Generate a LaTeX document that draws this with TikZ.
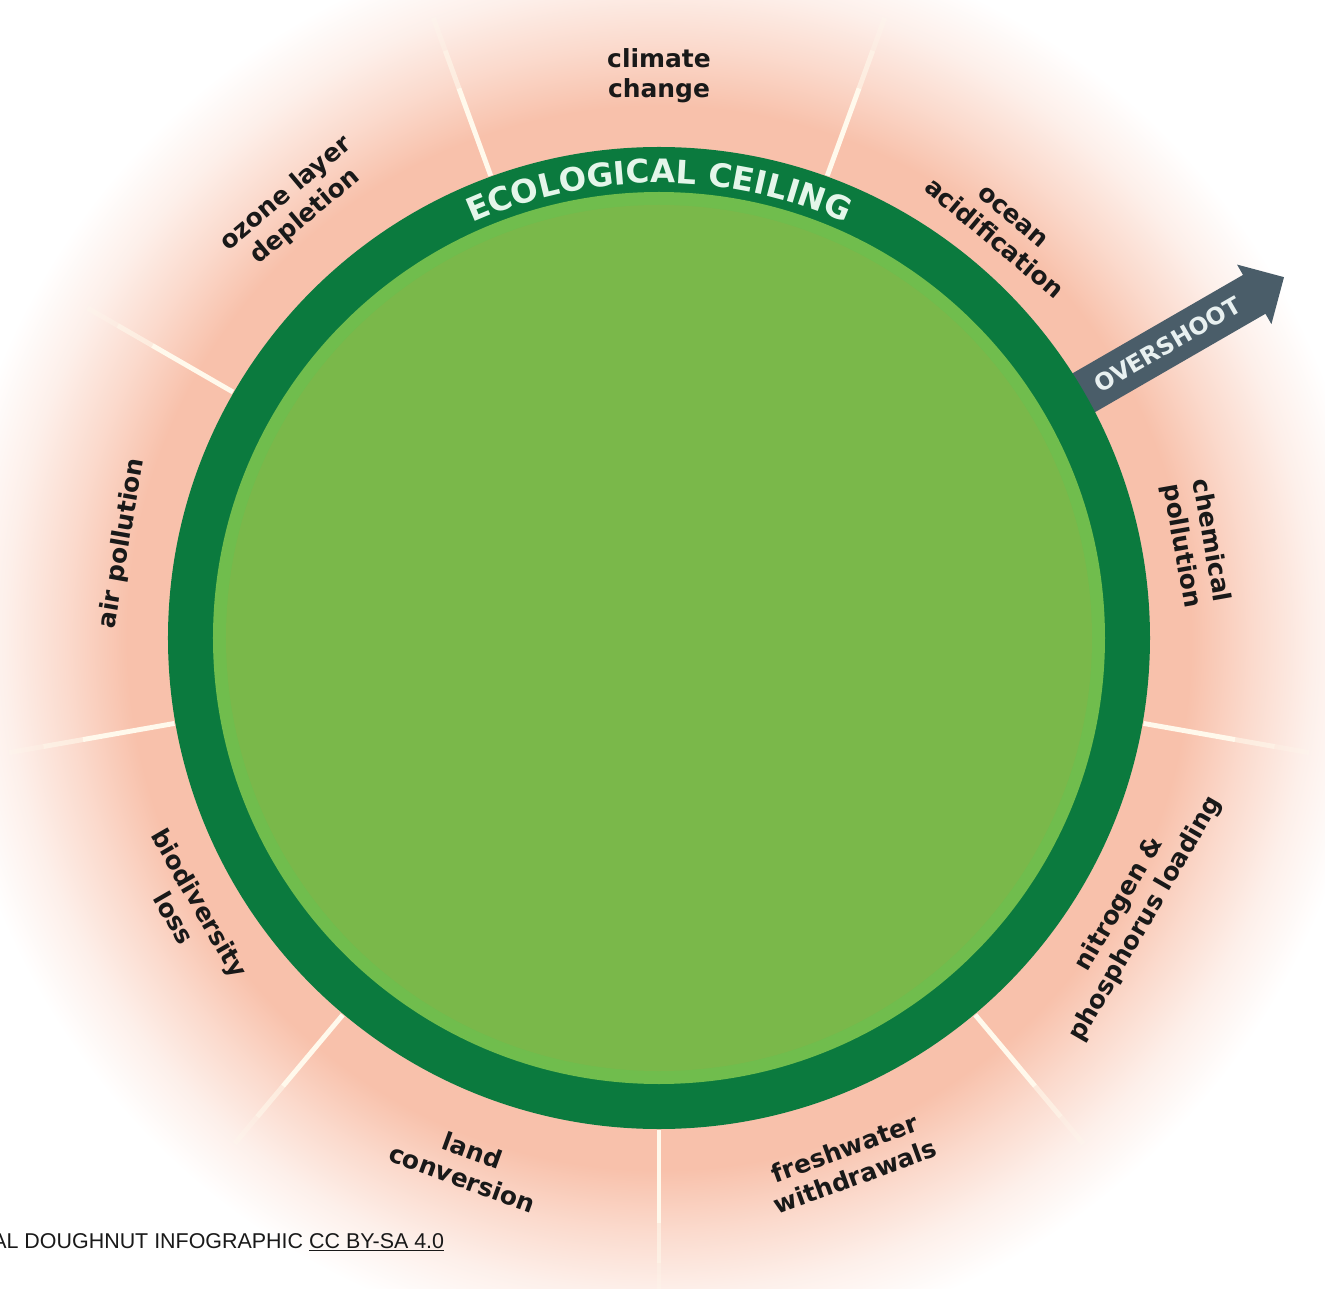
\documentclass[tikz,border=0pt]{standalone}
\usepackage{fontspec}
\setmainfont{Liberation Sans}
\newfontfamily\verdfamily{DejaVu Sans}
\usepackage{tikz}
\usetikzlibrary{positioning}
\usetikzlibrary{shapes.arrows, decorations.text}

\definecolor{ringgreen}{HTML}{0B7A3E}
\definecolor{bandgreen}{HTML}{70BD4D}
\definecolor{leafgreen}{HTML}{7AB84A}
\definecolor{glowpink}{HTML}{F8C1AB}
\definecolor{linecream}{HTML}{FFF9EC}
\definecolor{arrowgray}{HTML}{4A5D69}
\definecolor{overtext}{HTML}{E8F0F0}
\definecolor{ceiltext}{HTML}{E4F6EA}
\colorlet{glowmid}{glowpink!60!white}
\colorlet{glowpale}{glowpink!25!white}

\pgfdeclareradialshading{glow}{\pgfpoint{0bp}{0bp}}{color(0bp)=(glowpink); color(17.5bp)=(glowpink); color(19.5bp)=(glowmid); color(21.5bp)=(glowpale); color(23.5bp)=(white); color(50bp)=(white)}

\tikzset{
  boundary/.style={line width=2.8pt, linecream},
  dimlabel/.style={font=\verdfamily\bfseries\fontsize{14.2}{17}\selectfont, align=center, inner sep=0pt, text=black!90},
  overshoot/.style={single arrow, fill=arrowgray, text=overtext, font=\verdfamily\bfseries\fontsize{13.4}{14}\selectfont,
    inner xsep=0pt, inner ysep=7.5pt, minimum height=4.94cm, single arrow head extend=6.8pt},
  credit/.style={font=\fontsize{12.2}{14}\selectfont, inner sep=0pt, text=black!90}
}

\begin{document}
\begin{tikzpicture}[x=0.02cm, y=0.02cm]
\useasboundingbox (-659,-650) rectangle (666,638);
\fill[white] (-659,-650) rectangle (666,638);
\shade[shading=glow] (0,0) circle (760);

\foreach \a in {-10,70,110,150,190,230,270,310}{
  \draw[boundary] (\a:492) -- (\a:585);
  \draw[boundary, opacity=0.6] (\a:585) -- (\a:625);
  \draw[boundary, opacity=0.3] (\a:625) -- (\a:660);
}

\node[overshoot, rotate=30] (over) at (30:587) {OVERSHOOT};

\fill[ringgreen] (0,0) circle (491);
\fill[bandgreen] (0,0) circle (446);
\fill[leafgreen] (0,0) circle (433);

\path[decorate, decoration={text along path, text align=center,
  text={|\verdfamily\bfseries\fontsize{18.4}{20}\selectfont\color{ceiltext}|ECOLOGICAL CEILING}}]
  (120:455) arc[start angle=120, end angle=60, radius=455];

\foreach \a/\rad/\txt/\nm in {170/545/{air pollution}/air, 130/565/{ozone layer\\depletion}/ozone,
    90/562/{climate\\change}/climate, 50/535/{ocean\\acidification}/ocean, 10/545/{chemical\\pollution}/chemical}
  \node[dimlabel, rotate=\a-90] (\nm) at (\a:\rad) {\txt};
\foreach \a/\rad/\txt/\nm in {330/547/{nitrogen \&\\phosphorus loading}/nitrogen, 290/558/{freshwater\\withdrawals}/fresh,
    250/560/{land\\conversion}/land, 210/545/{biodiversity\\loss}/biodiv}
  \node[dimlabel, rotate=\a+90] (\nm) at (\a:\rad) {\txt};

\node[credit, anchor=base west] (source) at (-667,-610) {AL DOUGHNUT INFOGRAPHIC \underline{CC BY-SA 4.0}};
\end{tikzpicture}
\end{document}
